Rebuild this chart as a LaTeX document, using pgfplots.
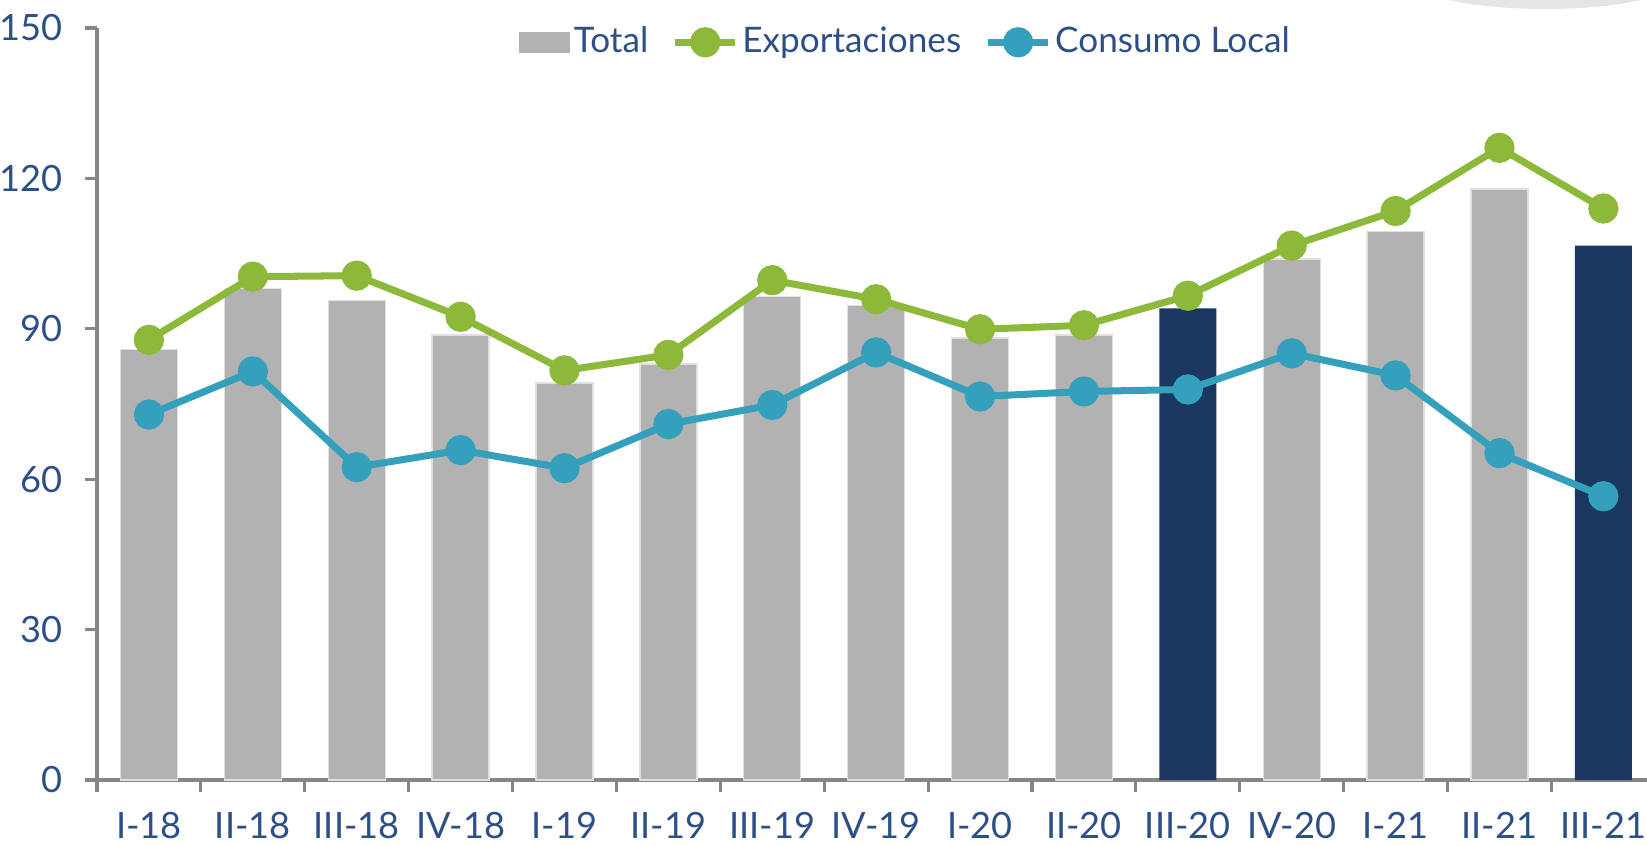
\documentclass[border=0pt]{standalone}
\usepackage{fontspec}
\setmainfont{Lato}
\usepackage{pgfplots}
\pgfplotsset{compat=1.18}
\definecolor{barGray}{HTML}{B2B2B2}
\definecolor{barNavy}{HTML}{1A3760}
\definecolor{expGreen}{HTML}{8DB93A}
\definecolor{locBlue}{HTML}{35A0BC}
\definecolor{txtBlue}{HTML}{2B4F86}
\definecolor{axGray}{HTML}{868686}

\begin{document}
\begin{tikzpicture}
\useasboundingbox (0,0) rectangle (16.47,8.45);
\begin{scope}
  \clip (0,0) rectangle (16.47,8.45);
  \fill[black!10] (15.45,8.66) ellipse [x radius=1.35cm, y radius=0.3cm];
\end{scope}
\begin{axis}[
    at={(0.97cm,0.65cm)}, anchor=south west,
    scale only axis,
    width=15.5cm, height=7.52cm,
    xmin=-0.5, xmax=14.42,
    ymin=0, ymax=150,
    axis lines*=left,
    axis line style={axGray, line width=0.9pt},
    tick align=outside,
    major tick length=0.12cm,
    minor tick length=0.12cm,
    ytick={0,30,...,150},
    y tick style={axGray, line width=0.9pt},
    xtick={0,...,14},
    xticklabels={I-18,II-18,III-18,IV-18,I-19,II-19,III-19,IV-19,I-20,II-20,III-20,IV-20,I-21,II-21,III-21},
    x tick style={draw=none},
    minor xtick={-0.5,0.5,...,13.5},
    minor x tick style={draw=axGray, line width=0.9pt},
    tick label style={font=\fontsize{10.3}{12}\selectfont, text=txtBlue},
    yticklabel style={xshift=-0.1cm},
    xticklabel style={yshift=-0.08cm},
    /pgf/number format/assume math mode=true,
    legend style={at={(0.522,0.981)}, anchor=center, draw=none, fill=none,
        font=\fontsize{10}{12}\selectfont, text=txtBlue,
        nodes={inner xsep=1pt},
        /tikz/every even column/.append style={column sep=0.2cm}},
    legend columns=-1,
]
% Total (gray bars)
\addplot[ybar, bar shift=0pt, bar width=0.57cm, fill=barGray, draw=black!12,
    legend image code/.code={\fill[barGray] (0cm,-0.1cm) rectangle (0.5cm,0.1cm);}]
  coordinates {(0,85.9) (1,98.0) (2,95.7) (3,88.8) (4,79.2) (5,83.0) (6,96.4)
               (7,94.7) (8,88.2) (9,88.8) (11,103.9) (12,109.4) (13,117.9)};
\addlegendentry{Total}
% highlighted quarters
\addplot[ybar, bar shift=0pt, bar width=0.57cm, fill=barNavy, draw=none, forget plot]
  coordinates {(10,94.1) (14,106.6)};
% Exportaciones
\addplot[expGreen, line width=2pt, mark=*, mark size=3.3pt,
    mark options={draw=none, fill=expGreen}]
  coordinates {(0,87.8) (1,100.4) (2,100.6) (3,92.4) (4,81.7) (5,84.8) (6,99.7)
               (7,95.9) (8,89.9) (9,90.7) (10,96.6) (11,106.6) (12,113.5) (13,126.1) (14,114.0)};
\addlegendentry{Exportaciones}
% Consumo Local
\addplot[locBlue, line width=2pt, mark=*, mark size=3.3pt,
    mark options={draw=none, fill=locBlue}]
  coordinates {(0,72.9) (1,81.5) (2,62.4) (3,65.8) (4,62.2) (5,71.0) (6,74.8)
               (7,85.3) (8,76.5) (9,77.5) (10,77.9) (11,85.1) (12,80.7) (13,65.2) (14,56.6)};
\addlegendentry{Consumo Local}
\end{axis}
\end{tikzpicture}
\end{document}
